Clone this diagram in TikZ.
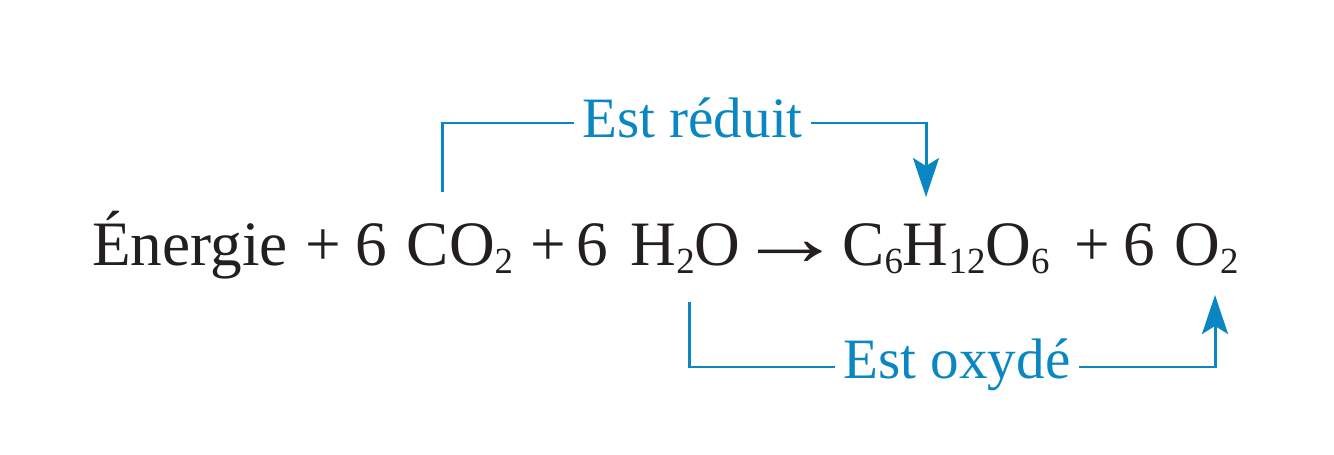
\documentclass[tikz,border=0pt]{standalone}
\usepackage{fontspec}
\setmainfont{Liberation Serif}
\usepackage{xcolor}
\definecolor{redox-blue}{HTML}{0A87C2}
\definecolor{eq-text}{HTML}{231F20}
\usepackage{tikz}
\usetikzlibrary{
  arrows.meta,
  positioning
}
\newcommand{\chemsub}[1]{\raisebox{-4pt}{\fontsize{21}{24}\selectfont #1}}

\begin{document}
\begin{tikzpicture}[
    x=0.02cm, y=-0.02cm,
    term/.style={
      inner sep=0pt,
      anchor=base,
      font=\fontsize{36}{42}\selectfont,
      text=eq-text
    },
    redoxtag/.style={
      inner xsep=0.16cm,
      inner ysep=0pt,
      anchor=base,
      font=\fontsize{32.5}{38}\selectfont,
      text=redox-blue
    },
    redoxline/.style={
      line width=1.7pt,
      color=redox-blue
    },
    flow/.style={
      redoxline,
      -{Stealth[length=0.78cm, width=0.52cm, inset=0.16cm]}
    }
  ]
    \useasboundingbox (0,0) rectangle (1334,455);

    \node[term] (energie) at (190,266)    {Énergie};
    \node[term] (plusA)   at (323.5,266)  {+};
    \node[term] (sixA)    at (371.5,266)  {6};
    \node[term] (co2)     at (460,266)    {CO\chemsub{2}};
    \node[term] (plusB)   at (548,266)    {+};
    \node[term] (sixB)    at (592,266)    {6};
    \node[term] (h2o)     at (685.5,266)  {H\chemsub{2}O};
    \node[term] (yields)  at (790,266)    {\scalebox{1.7}[1.3]{→}};
    \node[term] (gluc)    at (946,266)    {C\chemsub{6}H\chemsub{12}O\chemsub{6}};
    \node[term] (plusC)   at (1092.5,266) {+};
    \node[term] (sixC)    at (1139,266)   {6};
    \node[term] (o2)      at (1206.5,266) {O\chemsub{2}};

    \node[redoxtag] (reduit) at (692.5,138) {Est réduit};
    \node[redoxtag] (oxyde)  at (957,378)   {Est oxydé};

    % CO2 -> glucose
    \draw[redoxline] ([xshift=-0.36cm,yshift=1.48cm]co2.base) |- ([yshift=0.3cm]reduit.base west);
    \draw[flow] ([yshift=0.3cm]reduit.base east) -| ([xshift=-0.4cm,yshift=1.38cm]gluc.base);
    % H2O -> O2
    \draw[redoxline] ([xshift=0.07cm,yshift=-0.72cm]h2o.base) |- ([yshift=0.22cm]oxyde.base west);
    \draw[flow] ([yshift=0.22cm]oxyde.base east) -| ([xshift=0.17cm,yshift=-0.58cm]o2.base);
  \end{tikzpicture}
\end{document}
